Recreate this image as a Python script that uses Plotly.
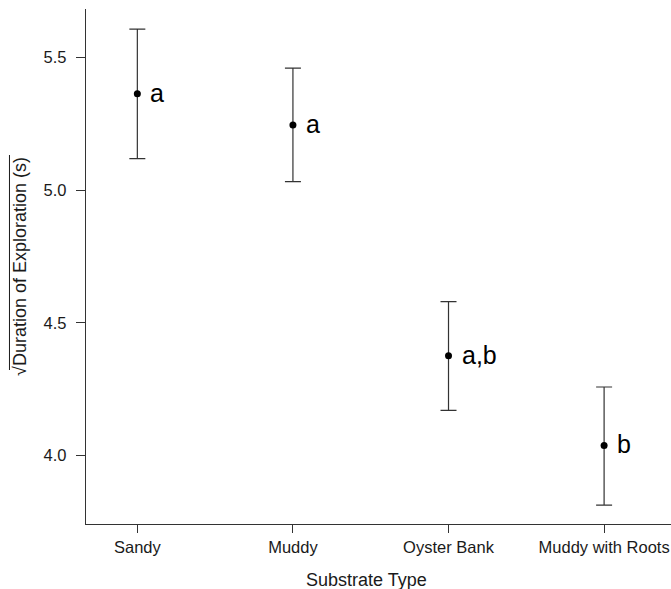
import plotly.graph_objects as go

categories = ["Sandy", "Muddy", "Oyster Bank", "Muddy with Roots"]
means = [5.363, 5.245, 4.376, 4.038]
upper = [5.606, 5.459, 4.580, 4.258]
lower = [5.118, 5.032, 4.170, 3.813]
letters = ["a", "a", "a,b", "b"]
y_ticks = [4.0, 4.5, 5.0, 5.5]

err_plus = [u - m for u, m in zip(upper, means)]
err_minus = [m - l for m, l in zip(means, lower)]

FONT = "Arial, 'Liberation Sans', Helvetica, sans-serif"
INK = "#1a1a1a"
LINE = "#333333"

fig = go.Figure()
fig.add_trace(go.Scatter(
    x=categories, y=means, mode="markers",
    marker=dict(color="black", size=7),
    error_y=dict(type="data", symmetric=False, array=err_plus, arrayminus=err_minus,
                 color=LINE, thickness=1.2, width=8),
    showlegend=False, hoverinfo="skip",
))

for c, m, t in zip(categories, means, letters):
    fig.add_annotation(x=c, y=m, text=t, showarrow=False, xanchor="left", yanchor="middle",
                       xshift=11, yshift=1, font=dict(size=25, color="black", family=FONT))

fig.add_annotation(x=0.480, y=-0.108, xref="paper", yref="paper", text="Substrate Type",
                   showarrow=False, xanchor="center", yanchor="middle",
                   font=dict(size=18, color=INK, family=FONT))
fig.add_annotation(x=-0.113, y=0.501, xref="paper", yref="paper",
                   text="\u221aDuration of Exploration (s)", textangle=-90,
                   showarrow=False, xanchor="center", yanchor="middle",
                   font=dict(size=18, color=INK, family=FONT))
fig.add_shape(type="line", xref="paper", yref="paper", x0=-0.1308, x1=-0.1308,
              y0=0.7165, y1=0.299, line=dict(color=INK, width=1))

fig.update_xaxes(type="category", range=[-0.33, 3.43], showline=True, linecolor=LINE,
                 linewidth=1.3, ticks="outside", ticklen=8, tickcolor=LINE, tickwidth=1.2,
                 showgrid=False, zeroline=False,
                 tickfont=dict(size=16.5, color=INK, family=FONT))
fig.update_yaxes(range=[3.742, 5.682], tickvals=y_ticks, ticktext=[f"{v:.1f}" for v in y_ticks],
                 showline=True, linecolor=LINE, linewidth=1.3, ticks="outside", ticklen=9,
                 tickcolor=LINE, tickwidth=1.2, showgrid=False, zeroline=False,
                 ticklabelstandoff=6,
                 tickfont=dict(size=16.5, color=INK, family=FONT))

fig.update_layout(width=671, height=589, margin=dict(l=86, r=0, t=9, b=65),
                  plot_bgcolor="white", paper_bgcolor="white")
fig.write_html("out.html", config={"displayModeBar": False},
               post_script="document.body.style.margin='0';document.body.style.overflow='hidden';")
